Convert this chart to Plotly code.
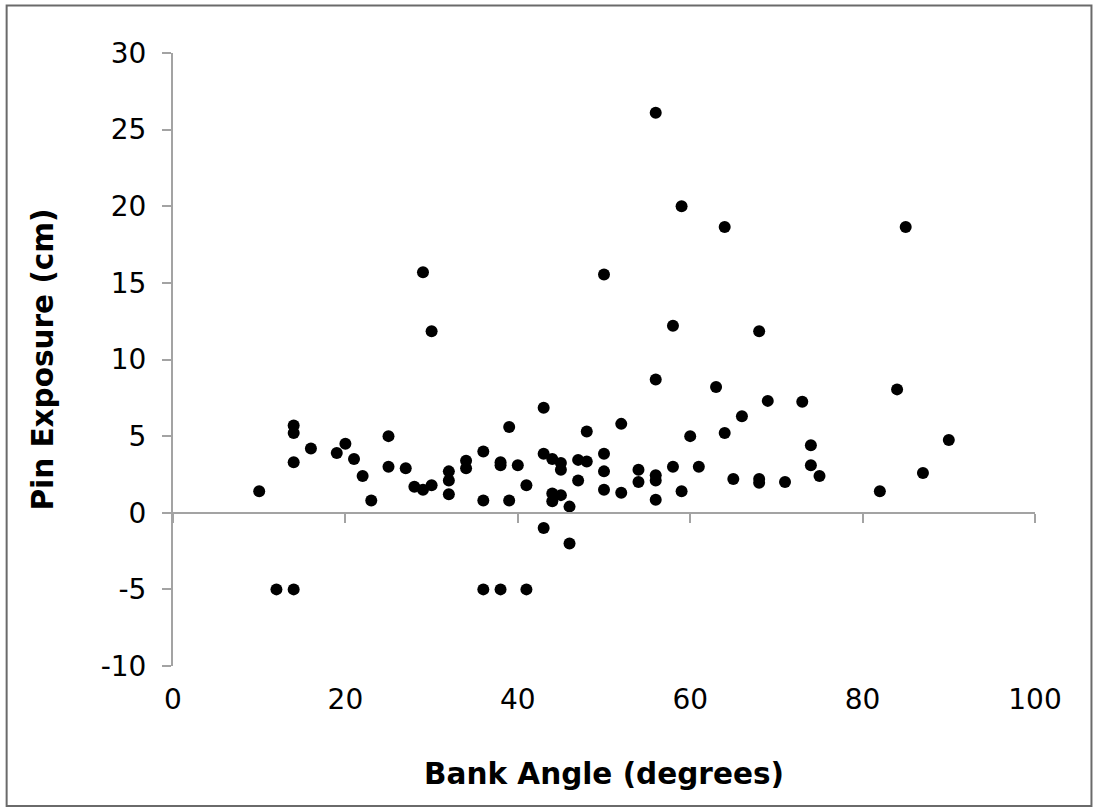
import plotly.graph_objects as go

bank_angle = [10, 12, 14, 14, 14, 14, 16, 19, 20, 21, 22, 23, 25, 25, 27, 28, 29, 29,
              30, 30, 32, 32, 32, 34, 34, 36, 36, 36, 38, 38, 38, 39, 39, 40, 41, 41,
              43, 43, 43, 44, 44, 44, 45, 45, 45, 46, 46, 47, 47, 48, 48, 50, 50, 50,
              50, 52, 52, 54, 54, 56, 56, 56, 56, 56, 58, 58, 59, 59, 60, 61, 63, 64,
              64, 65, 66, 68, 68, 68, 69, 71, 73, 74, 74, 75, 82, 84, 85, 87, 90]
pin_exposure = [1.4, -5, -5, 5.7, 5.2, 3.3, 4.2, 3.9, 4.5, 3.5, 2.4, 0.8, 5.0, 3.0, 2.9, 1.7, 1.5, 15.7,
                1.8, 11.85, 2.7, 2.1, 1.2, 3.4, 2.9, 4.0, 0.8, -5, 3.3, 3.1, -5, 5.6, 0.8, 3.1, 1.8, -5,
                6.85, 3.85, -1.0, 3.5, 1.25, 0.75, 3.25, 2.8, 1.15, 0.4, -2.0, 3.45, 2.1, 5.3, 3.35, 15.55, 3.85, 2.7,
                1.5, 5.8, 1.3, 2.8, 2.0, 26.1, 8.7, 2.45, 2.1, 0.85, 12.2, 3.0, 20.0, 1.4, 5.0, 3.0, 8.2, 18.65,
                5.2, 2.2, 6.3, 11.85, 2.2, 1.95, 7.3, 2.0, 7.25, 4.4, 3.1, 2.4, 1.4, 8.05, 18.65, 2.6, 4.75]

x_ticks = [0, 20, 40, 60, 80, 100]
y_ticks = [-10, -5, 0, 5, 10, 15, 20, 25, 30]
x_title = "Bank Angle (degrees)"
y_title = "Pin Exposure (cm)"

FONT = "DejaVu Sans"
AXIS_GRAY = "#a3a3a3"

fig = go.Figure()
fig.add_trace(go.Scatter(
    x=bank_angle, y=pin_exposure, mode="markers",
    marker=dict(color="black", size=12, line=dict(width=0)),
    xaxis="x", yaxis="y", showlegend=False,
))
# empty trace so the zero-crossing axis is drawn
fig.add_trace(go.Scatter(x=[], y=[], xaxis="x2", yaxis="y", showlegend=False))

fig.update_layout(
    width=1094, height=809,
    margin=dict(l=173, r=59, t=53, b=143, autoexpand=False),
    paper_bgcolor="white", plot_bgcolor="white",
    font=dict(family=FONT, color="black"),
    xaxis=dict(
        range=[0, 100], tickvals=x_ticks, ticktext=[str(v) for v in x_ticks],
        showline=False, showgrid=False, zeroline=False, ticks="",
        tickfont=dict(size=28, family=FONT, color="black"),
        ticklabelstandoff=14,
        title=dict(text=x_title, font=dict(size=29.5, family=FONT, color="black", weight="bold"),
                   standoff=48),
        automargin=False, fixedrange=True,
    ),
    xaxis2=dict(
        range=[0, 100], tickvals=x_ticks, overlaying="x", anchor="free", position=0.25,
        side="bottom", showline=True, linecolor=AXIS_GRAY, linewidth=2,
        ticks="outside", ticklen=9, tickwidth=2, tickcolor=AXIS_GRAY,
        showticklabels=False, showgrid=False, zeroline=False, automargin=False,
    ),
    yaxis=dict(
        range=[-10, 30], tickvals=y_ticks, ticktext=[str(v) for v in y_ticks],
        showline=True, linecolor=AXIS_GRAY, linewidth=2, showgrid=False, zeroline=False,
        ticks="outside", ticklen=9, tickwidth=2, tickcolor=AXIS_GRAY,
        tickfont=dict(size=28, family=FONT, color="black"),
        ticklabelstandoff=10,
        title=dict(text=y_title, font=dict(size=29.5, family=FONT, color="black", weight="bold"),
                   standoff=38),
        automargin=False, fixedrange=True,
    ),
    shapes=[dict(
        type="rect", xref="paper", yref="paper",
        x0=-0.193, x1=1.0655, y0=-0.2285, y1=1.0775,
        line=dict(color="#6a6a6a", width=2), fillcolor="rgba(0,0,0,0)", layer="below",
    )],
)

fig.write_html("out.html")
